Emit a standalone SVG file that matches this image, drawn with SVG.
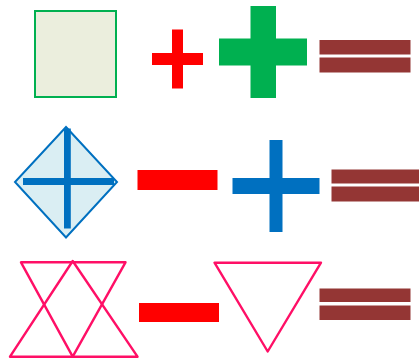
<svg xmlns="http://www.w3.org/2000/svg" width="419" height="360" viewBox="0 0 419 360">
<style>
.red{fill:#ff0000}
.eq{fill:#943634}
.pink{fill:none;stroke:#ff0f66;stroke-width:2.4;stroke-linejoin:round}
</style>
<rect width="419" height="360" fill="#ffffff"/>
<g id="row1">
  <g id="square"><rect x="35" y="11" width="81" height="86" fill="#ebeedd" stroke="#00b050" stroke-width="2"/></g>
  <g id="plus-red"><rect class="red" x="152" y="53" width="51" height="12"/><rect class="red" x="172" y="29.5" width="11" height="59"/></g>
  <g id="plus-green" fill="#00b050"><rect x="219" y="38.5" width="88" height="27"/><rect x="250.5" y="6" width="25.5" height="92"/></g>
  <g id="eq1"><rect class="eq" x="319.5" y="40" width="91" height="14.5"/><rect class="eq" x="319.5" y="57.5" width="91" height="15"/></g>
</g>
<g id="row2">
  <g id="diamond"><polygon points="66,127 117,182 66,237.5 15,182" fill="#daeef3" stroke="#0070c0" stroke-width="2"/>
    <rect x="64" y="128.5" width="6.8" height="100" fill="#0070c0"/><rect x="23" y="178" width="91" height="7" fill="#0070c0"/></g>
  <g id="minus2"><rect class="red" x="137.5" y="170" width="80" height="20"/></g>
  <g id="plus-blue" fill="#0070c0"><rect x="232.5" y="178" width="87" height="16"/><rect x="269.5" y="140" width="13" height="92"/></g>
  <g id="eq2"><rect class="eq" x="331.5" y="169.5" width="88" height="14"/><rect class="eq" x="331.5" y="186.5" width="88" height="15"/></g>
</g>
<g id="row3">
  <g id="star"><polygon class="pink" points="72.7,261 10,356.7 137.5,356.7"/><polygon class="pink" points="21,262.3 125.5,262.3 72.7,356.7"/></g>
  <g id="minus3"><rect class="red" x="139" y="303" width="80" height="19"/></g>
  <g id="tri"><polygon class="pink" points="214.5,262.7 321,262.7 267.7,351.5"/></g>
  <g id="eq3"><rect class="eq" x="319.5" y="288.5" width="91" height="13.5"/><rect class="eq" x="319.5" y="305.5" width="91" height="14.5"/></g>
</g>
</svg>
